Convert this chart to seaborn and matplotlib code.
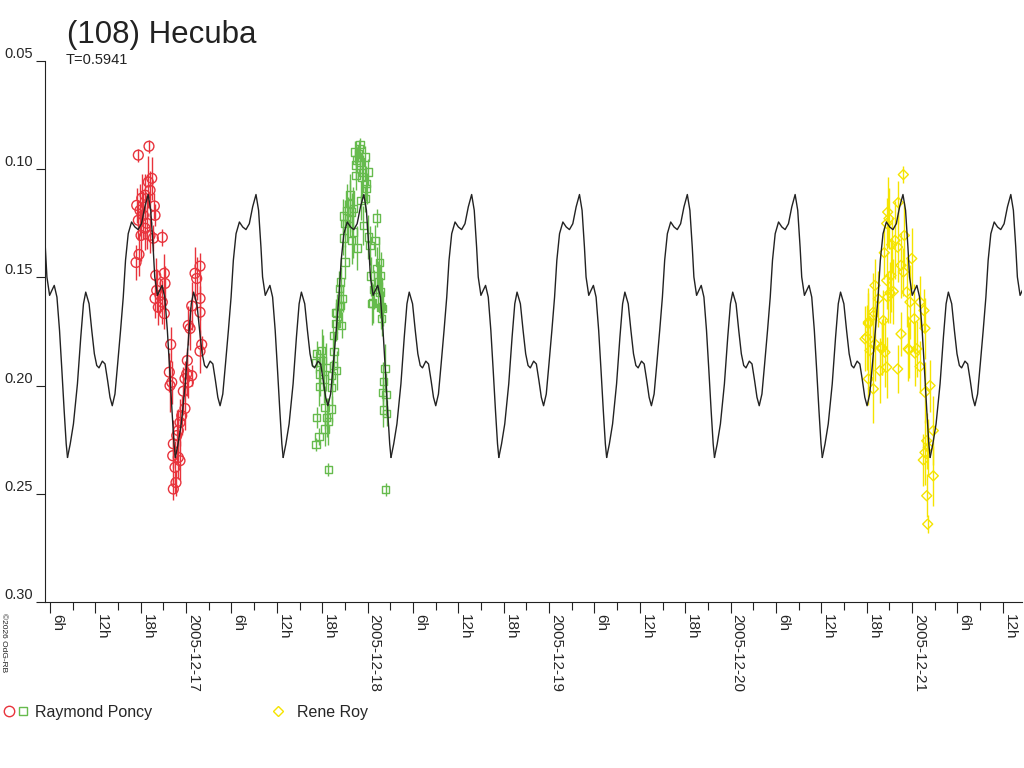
import datetime as dt

import pandas as pd
import seaborn as sns
import matplotlib
matplotlib.use("Agg")
import matplotlib.pyplot as plt
from matplotlib.lines import Line2D
from matplotlib.legend_handler import HandlerTuple

TITLE = "(108) Hecuba"
PERIOD_DAYS = 0.5941
START_DATE = dt.date(2005, 12, 16)   # x values are hours after this midnight

# composite fit, one rotation, phase 0 = deep minimum
fit_phase = [0.000, 0.025, 0.055, 0.092, 0.123, 0.148, 0.169, 0.200, 0.225, 0.249,
             0.271, 0.292, 0.323, 0.348, 0.372, 0.394, 0.415, 0.440, 0.465, 0.492,
             0.517, 0.538, 0.563, 0.594, 0.625, 0.655, 0.686, 0.717, 0.748, 0.772,
             0.794, 0.809, 0.834, 0.855, 0.877, 0.902, 0.926, 0.948, 0.969, 0.988, 1.000]
fit_mag = [0.2332, 0.2270, 0.2177, 0.1992, 0.1776, 0.1622, 0.1568, 0.1622, 0.1745, 0.1853,
           0.1907, 0.1918, 0.1887, 0.1900, 0.1977, 0.2054, 0.2093, 0.2039, 0.1900, 0.1745,
           0.1591, 0.1421, 0.1298, 0.1244, 0.1267, 0.1279, 0.1252, 0.1174, 0.1117, 0.1190,
           0.1360, 0.1498, 0.1583, 0.1560, 0.1537, 0.1591, 0.1745, 0.1931, 0.2116, 0.2270, 0.2332]
fit_epoch_h = 65.35

# Raymond Poncy, night 1 (red circles)
red_h = [19.09, 17.68, 19.45, 19.00, 19.23, 18.57, 18.13, 17.47, 19.80, 17.90,
         19.89, 18.34, 17.68, 18.79, 18.57, 18.04, 19.66, 20.85, 19.23, 17.77,
         17.38, 19.98, 21.12, 21.21, 20.11, 20.55, 19.89, 20.85, 20.32, 21.12,
         25.84, 25.18, 25.40, 25.84, 24.74, 25.84, 24.29, 24.52, 21.96, 26.06,
         25.84, 24.16, 21.78, 24.08, 24.74, 22.10, 23.85, 21.87, 24.29, 23.63,
         23.85, 23.42, 23.19, 22.97, 22.76, 22.31, 22.23, 22.97, 23.19, 22.53,
         22.66, 22.31]
red_mag = [0.0894, 0.0935, 0.1042, 0.1059, 0.1097, 0.1120, 0.1134, 0.1167, 0.1170, 0.1190,
           0.1213, 0.1213, 0.1236, 0.1250, 0.1273, 0.1306, 0.1319, 0.1315, 0.1306, 0.1394,
           0.1431, 0.1491, 0.1481, 0.1528, 0.1560, 0.1583, 0.1597, 0.1614, 0.1638, 0.1667,
           0.1448, 0.1481, 0.1505, 0.1597, 0.1632, 0.1661, 0.1722, 0.1736, 0.1810, 0.1810,
           0.1841, 0.1884, 0.1938, 0.1946, 0.1954, 0.1985, 0.1968, 0.2000, 0.1985, 0.2026,
           0.2106, 0.2139, 0.2170, 0.2208, 0.2231, 0.2269, 0.2324, 0.2332, 0.2347, 0.2378,
           0.2448, 0.2478]
red_err = [0.003, 0.003, 0.010, 0.012, 0.009, 0.010, 0.011, 0.008, 0.006, 0.012,
           0.005, 0.011, 0.009, 0.012, 0.010, 0.012, 0.006, 0.004, 0.008, 0.010,
           0.008, 0.008, 0.009, 0.008, 0.010, 0.008, 0.009, 0.010, 0.008, 0.007,
           0.006, 0.012, 0.010, 0.010, 0.011, 0.012, 0.009, 0.010, 0.008, 0.004,
           0.010, 0.006, 0.009, 0.010, 0.005, 0.010, 0.008, 0.012, 0.007, 0.011,
           0.010, 0.009, 0.011, 0.010, 0.012, 0.011, 0.012, 0.010, 0.009, 0.012,
           0.006, 0.005]

# Raymond Poncy, night 2 (green squares)
green_h = [47.00, 46.90, 46.33, 46.77, 47.66, 46.56, 47.00, 46.47, 48.09, 47.35,
           46.47, 47.22, 47.79, 47.88, 45.67, 47.66, 47.13, 45.67, 46.11, 45.24,
           45.90, 44.79, 49.20, 45.45, 45.01, 47.43, 46.11, 44.79, 48.09, 48.98,
           45.90, 48.32, 46.64, 45.01, 49.55, 49.20, 48.41, 49.73, 44.44, 49.41,
           44.26, 48.85, 49.64, 44.71, 48.54, 49.86, 44.44, 43.82, 50.00, 43.91,
           44.26, 43.82, 44.57, 43.46, 43.56, 41.27, 41.93, 42.06, 41.18, 43.46,
           42.50, 43.91, 41.71, 43.25, 42.23, 41.61, 43.25, 42.37, 43.25, 41.27,
           42.59, 42.80, 42.37, 41.57, 41.18, 42.80, 48.67, 49.73, 49.86, 50.30,
           50.08, 50.00, 50.43, 50.08, 50.52, 50.39]
green_mag = [0.0886, 0.0907, 0.0920, 0.0927, 0.0943, 0.0958, 0.0966, 0.0981, 0.1013, 0.1015,
             0.1028, 0.1036, 0.1066, 0.1089, 0.1120, 0.1136, 0.1144, 0.1159, 0.1182, 0.1190,
             0.1198, 0.1216, 0.1225, 0.1228, 0.1251, 0.1259, 0.1290, 0.1318, 0.1313, 0.1329,
             0.1329, 0.1352, 0.1364, 0.1429, 0.1432, 0.1460, 0.1494, 0.1491, 0.1522, 0.1522,
             0.1552, 0.1556, 0.1568, 0.1599, 0.1622, 0.1633, 0.1630, 0.1661, 0.1645, 0.1665,
             0.1634, 0.1714, 0.1722, 0.1769, 0.1841, 0.1853, 0.1838, 0.1884, 0.1892, 0.1907,
             0.1915, 0.1931, 0.1946, 0.1954, 0.1969, 0.2005, 0.2008, 0.2100, 0.2108, 0.2147,
             0.2147, 0.2165, 0.2200, 0.2236, 0.2273, 0.2389, 0.1619, 0.1638, 0.1691, 0.1920,
             0.1981, 0.2031, 0.2042, 0.2113, 0.2128, 0.2481]
green_err = [0.003, 0.004, 0.005, 0.004, 0.005, 0.006, 0.005, 0.007, 0.006, 0.008,
             0.007, 0.009, 0.008, 0.007, 0.010, 0.006, 0.009, 0.011, 0.010, 0.012,
             0.009, 0.008, 0.004, 0.010, 0.011, 0.009, 0.012, 0.008, 0.010, 0.007,
             0.011, 0.009, 0.010, 0.008, 0.012, 0.010, 0.009, 0.011, 0.007, 0.010,
             0.008, 0.009, 0.012, 0.006, 0.010, 0.011, 0.007, 0.006, 0.008, 0.009,
             0.010, 0.008, 0.006, 0.007, 0.009, 0.006, 0.010, 0.012, 0.005, 0.008,
             0.011, 0.009, 0.010, 0.007, 0.011, 0.009, 0.008, 0.010, 0.006, 0.005,
             0.009, 0.011, 0.008, 0.004, 0.003, 0.003, 0.009, 0.010, 0.008, 0.011,
             0.009, 0.007, 0.010, 0.008, 0.006, 0.003]

# Rene Roy (yellow diamonds)
yellow_h = [118.84, 116.77, 118.17, 116.94, 116.64, 118.97, 117.74, 117.30, 118.09, 116.32,
            118.53, 118.84, 119.95, 117.20, 116.64, 115.09, 119.28, 117.07, 116.77, 117.51,
            115.53, 119.72, 121.05, 116.19, 114.21, 114.87, 118.53, 113.77, 115.09, 121.70,
            120.29, 115.97, 119.50, 120.61, 114.43, 114.21, 114.87, 113.99, 115.97, 116.41,
            116.64, 118.09, 115.75, 114.21, 114.87, 119.59, 120.38, 121.05, 121.57, 121.70,
            122.37, 122.80, 121.93, 121.70, 121.48, 122.80, 121.93, 122.06, 122.14]
yellow_mag = [0.1025, 0.1198, 0.1154, 0.1228, 0.1251, 0.1306, 0.1329, 0.1349, 0.1360, 0.1386,
              0.1444, 0.1475, 0.1413, 0.1491, 0.1514, 0.1537, 0.1568, 0.1571, 0.1591, 0.1565,
              0.1599, 0.1614, 0.1614, 0.1699, 0.1707, 0.1661, 0.1761, 0.1784, 0.1807, 0.1735,
              0.1691, 0.1830, 0.1830, 0.1830, 0.1838, 0.1714, 0.1676, 0.1776, 0.1823, 0.1846,
              0.1915, 0.1923, 0.1931, 0.1969, 0.2015, 0.1835, 0.1850, 0.1912, 0.1653, 0.2031,
              0.2000, 0.2208, 0.2255, 0.2309, 0.2344, 0.2417, 0.2509, 0.2640, 0.2286]
yellow_err = [0.004, 0.016, 0.010, 0.014, 0.012, 0.015, 0.018, 0.013, 0.016, 0.012,
              0.015, 0.011, 0.014, 0.017, 0.013, 0.012, 0.016, 0.014, 0.012, 0.015,
              0.013, 0.017, 0.012, 0.014, 0.016, 0.018, 0.010, 0.015, 0.017, 0.014,
              0.016, 0.012, 0.015, 0.013, 0.016, 0.014, 0.012, 0.015, 0.013, 0.016,
              0.014, 0.011, 0.015, 0.012, 0.016, 0.013, 0.015, 0.012, 0.010, 0.014,
              0.012, 0.016, 0.013, 0.015, 0.012, 0.014, 0.010, 0.004, 0.013]

RED, GREEN, YELLOW = "#e8333c", "#66bb4d", "#f5e400"
INK = "#222222"

sns.set_style("white")
plt.rcParams["font.family"] = ["Liberation Sans", "DejaVu Sans"]

fig = plt.figure(figsize=(10.24, 7.68), dpi=100)
ax = fig.add_axes([45 / 1024, 166 / 768, 977 / 1024, 541 / 768])

# fit curve repeated over every rotation in the window
period_h = PERIOD_DAYS * 24
rows = []
for k in range(-5, 6):
    for ph, m in zip(fit_phase, fit_mag):
        rows.append({"cycle": k, "h": fit_epoch_h + (k + ph) * period_h, "mag": m})
fit_df = pd.DataFrame(rows)

series = [
    ("Raymond Poncy", red_h, red_mag, red_err, RED, "o", 50),
    ("Raymond Poncy", green_h, green_mag, green_err, GREEN, "s", 28),
    ("Rene Roy", yellow_h, yellow_mag, yellow_err, YELLOW, "D", 26),
]
for name, hh, mm, ee, col, mk, size in series:
    ax.errorbar(hh, mm, yerr=ee, fmt="none", ecolor=col, elinewidth=1, capsize=0, zorder=2)
    sns.scatterplot(x=hh, y=mm, marker=mk, s=size, color=col, facecolors="none",
                    edgecolor=col, linewidth=1, ax=ax, zorder=3, legend=False)

sns.lineplot(data=fit_df, x="h", y="mag", units="cycle", estimator=None,
             color=INK, linewidth=1.0, ax=ax, zorder=4, legend=False)

ax.set_xlim(5.34, 134.53)
ax.set_ylim(0.30, 0.05)
ax.set_xlabel("")
ax.set_ylabel("")

yt = [0.05, 0.10, 0.15, 0.20, 0.25, 0.30]
ax.set_yticks(yt)
ax.set_yticklabels([f"{v:.2f}" for v in yt], fontsize=10.5, va="bottom")

major = list(range(6, 135, 6))
labels = []
for h in major:
    d, r = divmod(h, 24)
    labels.append((START_DATE + dt.timedelta(days=d)).isoformat() if r == 0 else f"{r}h")
ax.set_xticks(major)
ax.set_xticks(list(range(6, 135, 3)), minor=True)
ax.set_xticklabels(labels, rotation=-90, ha="left", va="top", fontsize=11)

ax.tick_params(axis="x", which="major", direction="out", length=8, width=0.8,
               color=INK, pad=1, bottom=True)
ax.tick_params(axis="x", which="minor", direction="out", length=5.5, width=0.8,
               color=INK, bottom=True)
ax.tick_params(axis="y", direction="out", length=6.5, width=0.8, color=INK, pad=2, left=True)

for side in ["top", "right"]:
    ax.spines[side].set_visible(False)
for side in ["left", "bottom"]:
    ax.spines[side].set_color(INK)
    ax.spines[side].set_linewidth(0.8)
ax.grid(False)

fig.text(67 / 1024, 1 - 43 / 768, TITLE, fontsize=22.5, va="baseline", color=INK)
fig.text(66 / 1024, 1 - 64 / 768, f"T={PERIOD_DAYS}", fontsize=10.5, va="baseline", color=INK)
fig.text(3.5 / 1024, 1 - 613 / 768, "©2026 OdG-RB", rotation=-90, fontsize=6,
         ha="center", va="top", color=INK)

h_red = Line2D([], [], ls="none", marker="o", mfc="none", mec=RED, ms=7.5)
h_green = Line2D([], [], ls="none", marker="s", mfc="none", mec=GREEN, ms=5.5)
h_yellow = Line2D([], [], ls="none", marker="D", mfc="none", mec=YELLOW, ms=5)
fig.legend([(h_red, h_green), h_yellow], ["Raymond Poncy", "Rene Roy"],
           handler_map={tuple: HandlerTuple(ndivide=None, pad=0.2)},
           loc="center left", bbox_to_anchor=(0.003, 1 - 712 / 768), ncol=2,
           frameon=False, fontsize=11.5, handlelength=1.6, handletextpad=0.4,
           columnspacing=7.1, borderaxespad=0, borderpad=0)

fig.savefig("out.png", dpi=100)
